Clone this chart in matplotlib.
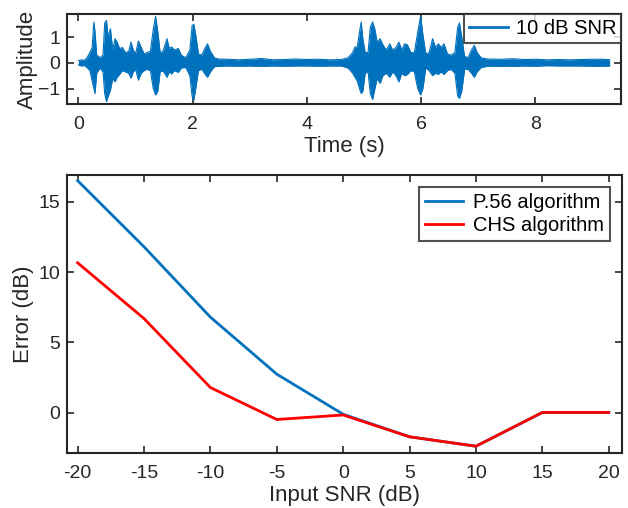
import matplotlib
matplotlib.use("Agg")
import matplotlib.pyplot as plt
from matplotlib.lines import Line2D

plt.rcParams["font.family"] = ["Liberation Sans", "DejaVu Sans"]

# ==============================
# DATA
# ==============================

# waveform envelope (time in s, upper / lower amplitude)
wave_t = [0.00, 0.05, 0.10, 0.15, 0.20, 0.24, 0.27, 0.29, 0.32, 0.38, 0.43, 0.46,
          0.49, 0.52, 0.56, 0.60, 0.64, 0.68, 0.72, 0.77, 0.82, 0.88, 0.92, 0.96,
          1.00, 1.05, 1.10, 1.15, 1.20, 1.26, 1.31, 1.35, 1.39, 1.43, 1.48, 1.55,
          1.59, 1.63, 1.68, 1.75, 1.80, 1.88, 1.95, 1.99, 2.02, 2.06, 2.10, 2.16,
          2.22, 2.26, 2.31, 2.38, 2.45, 2.60, 2.80, 3.00, 3.20, 3.40, 3.60, 3.80,
          4.00, 4.20, 4.40, 4.60, 4.72, 4.80, 4.84, 4.88, 4.92, 4.95, 4.98, 5.02,
          5.07, 5.11, 5.15, 5.19, 5.23, 5.28, 5.33, 5.39, 5.45, 5.50, 5.56, 5.61,
          5.66, 5.71, 5.76, 5.82, 5.88, 5.94, 5.99, 6.03, 6.08, 6.14, 6.20, 6.25,
          6.30, 6.35, 6.40, 6.46, 6.52, 6.59, 6.64, 6.67, 6.71, 6.76, 6.82, 6.88,
          6.93, 6.98, 7.05, 7.15, 7.40, 7.60, 7.80, 8.00, 8.20, 8.40, 8.60, 8.80,
          9.00, 9.20, 9.30]
wave_up = [0.08, 0.12, 0.10, 0.20, 0.40, 0.60, 1.59, 1.20, 0.30, 0.20, 0.30, 1.55,
           1.65, 1.00, 1.33, 0.50, 0.94, 0.80, 0.55, 0.60, 0.40, 0.45, 0.81, 0.50,
           0.35, 0.85, 0.60, 0.35, 0.40, 0.45, 1.30, 1.81, 1.20, 0.40, 0.45, 0.94,
           0.55, 0.62, 0.50, 0.56, 0.30, 0.20, 0.50, 1.45, 1.50, 1.00, 0.35, 0.30,
           0.60, 0.74, 0.45, 0.20, 0.15, 0.14, 0.12, 0.14, 0.17, 0.12, 0.13, 0.15,
           0.13, 0.14, 0.12, 0.13, 0.20, 0.40, 0.62, 0.60, 1.20, 1.59, 0.90, 0.40,
           0.40, 1.40, 1.59, 1.30, 0.80, 0.94, 0.70, 0.50, 0.74, 0.50, 0.60, 0.81,
           0.50, 0.74, 0.70, 0.40, 0.40, 1.20, 1.81, 1.10, 0.36, 0.40, 0.94, 0.60,
           0.74, 0.60, 0.74, 0.35, 0.30, 0.40, 1.40, 1.55, 1.00, 0.25, 0.20, 0.50,
           0.68, 0.40, 0.20, 0.15, 0.14, 0.16, 0.13, 0.14, 0.12, 0.13, 0.12, 0.13,
           0.14, 0.14, 0.12]
wave_lo = [-0.08, -0.12, -0.10, -0.18, -0.30, -0.70, -1.00, -1.19, -0.40, -0.20, -0.35, -1.20,
           -1.51, -1.30, -1.06, -0.60, -0.74, -0.55, -0.45, -0.30, -0.35, -0.40, -0.60, -0.35,
           -0.25, -0.67, -0.40, -0.30, -0.25, -0.30, -1.00, -1.25, -1.10, -0.35, -0.30, -0.56,
           -0.35, -0.43, -0.30, -0.37, -0.20, -0.18, -0.50, -1.30, -1.45, -0.90, -0.30, -0.25,
           -0.45, -0.56, -0.35, -0.15, -0.14, -0.12, -0.13, -0.12, -0.14, -0.12, -0.13, -0.12,
           -0.12, -0.13, -0.12, -0.12, -0.20, -0.40, -0.56, -0.70, -1.00, -1.19, -1.10, -0.40,
           -0.35, -1.20, -1.42, -1.00, -0.60, -0.80, -0.50, -0.40, -0.56, -0.35, -0.50, -0.74,
           -0.40, -0.50, -0.45, -0.30, -0.35, -1.00, -1.25, -1.00, -0.20, -0.30, -0.50, -0.40,
           -0.45, -0.35, -0.45, -0.30, -0.25, -0.40, -1.30, -1.38, -1.10, -0.25, -0.25, -0.40,
           -0.56, -0.35, -0.18, -0.14, -0.13, -0.14, -0.12, -0.13, -0.11, -0.12, -0.12, -0.12,
           -0.13, -0.13, -0.12]

snr = [-20, -15, -10, -5, 0, 5, 10, 15, 20]
err_p56 = [16.5, 11.8, 6.8, 2.75, -0.1, -1.7, -2.37, 0.03, 0.03]
err_chs = [10.66, 6.7, 1.8, -0.47, -0.15, -1.7, -2.37, 0.03, 0.03]

BLUE = "#0072BD"
RED = "#FF0000"
DARK = "#262626"

fig = plt.figure(figsize=(6.28, 5.08), dpi=100)


def style_axes(ax):
    for s in ax.spines.values():
        s.set_linewidth(1.5)
        s.set_color(DARK)
    ax.tick_params(direction="in", length=5, width=1.2, colors=DARK,
                   labelsize=14, top=True, right=True)
    ax.tick_params(axis="x", pad=8.5)
    ax.tick_params(axis="y", pad=5)


# ==============================
# 1. WAVEFORM
# ==============================

ax1 = fig.add_axes([0.1067, 0.7953, 0.8823, 0.1771])
ax1.fill_between(wave_t, wave_lo, wave_up, color=BLUE, linewidth=0)
ax1.plot(wave_t, wave_up, color=BLUE, linewidth=0.8)
ax1.plot(wave_t, wave_lo, color=BLUE, linewidth=0.8)
ax1.set_xlim(-0.2, 9.5)
ax1.set_ylim(-1.6, 1.9)
ax1.set_xticks([0, 2, 4, 6, 8])
ax1.set_yticks([-1, 0, 1])
ax1.set_xlabel("Time (s)", fontsize=16, color=DARK, labelpad=2)
ax1.set_ylabel("Amplitude", fontsize=16, color=DARK, labelpad=0)
style_axes(ax1)
h = [Line2D([], [], color=BLUE, linewidth=2)]
leg1 = ax1.legend(h, ["10 dB SNR"], loc="upper right", fontsize=14.5,
                  fancybox=False, borderaxespad=0, handlelength=1.9,
                  handletextpad=0.4, borderpad=0.25)
leg1.get_frame().set_edgecolor(DARK)
leg1.get_frame().set_linewidth(1.5)

# ==============================
# 2. ERROR VS INPUT SNR
# ==============================

ax2 = fig.add_axes([0.1067, 0.1083, 0.8838, 0.5472])
ax2.plot(snr, err_p56, color=BLUE, linewidth=2, label="P.56 algorithm")
ax2.plot(snr, err_chs, color=RED, linewidth=2, label="CHS algorithm")
ax2.set_xlim(-20.8, 21)
ax2.set_ylim(-2.85, 16.9)
ax2.set_xticks(snr)
ax2.set_xticklabels([str(v) for v in snr])
ax2.set_yticks([0, 5, 10, 15])
ax2.set_xlabel("Input SNR (dB)", fontsize=16, color=DARK, labelpad=2)
ax2.set_ylabel("Error (dB)", fontsize=16, color=DARK, labelpad=3)
style_axes(ax2)
leg2 = ax2.legend(loc="upper right", fontsize=14.5, fancybox=False,
                  borderaxespad=0.6, handlelength=1.9, handletextpad=0.5,
                  borderpad=0.3, labelspacing=0.2)
leg2.get_frame().set_edgecolor(DARK)
leg2.get_frame().set_linewidth(1.5)

fig.savefig("out.png", dpi=100)
